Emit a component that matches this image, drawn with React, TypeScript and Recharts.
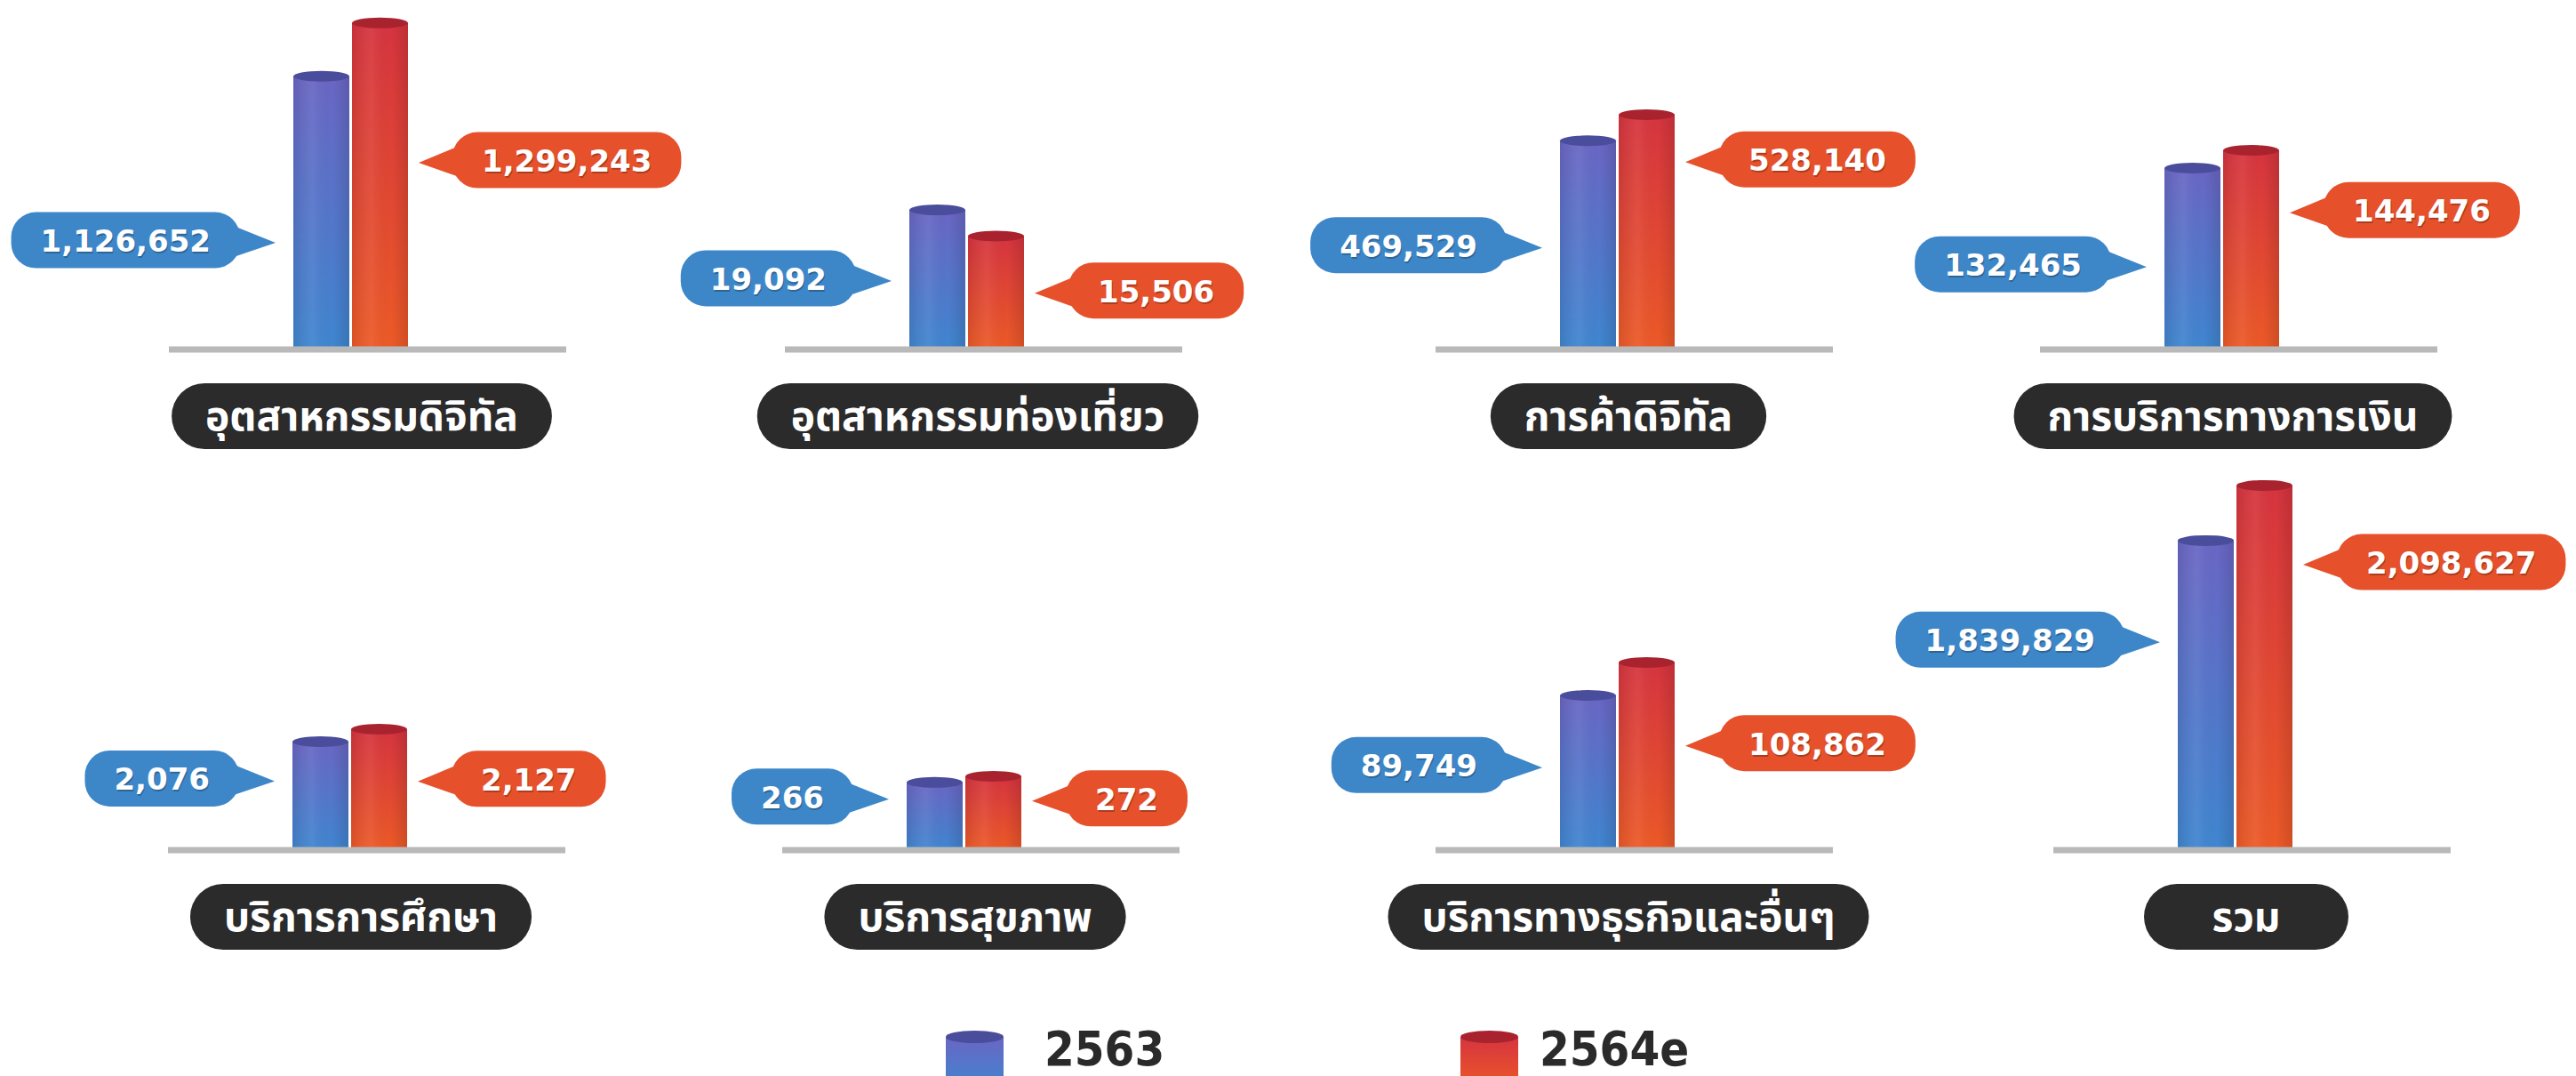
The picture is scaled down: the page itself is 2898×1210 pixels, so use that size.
import React from "react";
import { Bar, BarChart, LabelList, Legend, XAxis, YAxis } from "recharts";

const categories = [
  "อุตสาหกรรมดิจิทัล",
  "อุตสาหกรรมท่องเที่ยว",
  "การค้าดิจิทัล",
  "การบริการทางการเงิน",
  "บริการการศึกษา",
  "บริการสุขภาพ",
  "บริการทางธุรกิจและอื่นๆ",
  "รวม",
];
const values2563 = [1126652, 19092, 469529, 132465, 2076, 266, 89749, 1839829];
const values2564e = [1299243, 15506, 528140, 144476, 2127, 272, 108862, 2098627];
const seriesNames = ["2563", "2564e"];

// each panel has its own (illustrative) value scale
const axisMin = [240000, 0, 0, 10000, 1630, 200, 0, 387000];
const axisMax = [1345000, 46600, 766200, 240000, 3165, 564, 216700, 2140000];

// ---- layout ----
const baselineLeft = [190, 883, 1615, 2295, 189, 880, 1615, 2310];
const calloutLevelA = [0.4, 0.51, 0.5, 0.47, 0.66, 0.79, 0.55, 0.68];
const calloutLevelB = [0.58, 0.52, 0.81, 0.7, 0.59, 0.7, 0.57, 0.79];

const PLOT_W = 447;
const M_LEFT = 200;
const M_RIGHT = 150;
const M_TOP = 10;
const AXIS_H = 130;
const ROWS = [
  { top: 0, plotH: 383 },
  { top: 526, plotH: 420 },
];

const C = {
  blueTop: "#6a66c4",
  blueBottom: "#3f86d0",
  blueCap: "#4a4c9c",
  redTop: "#d6343f",
  redBottom: "#ec5a27",
  redCap: "#a9232f",
  blueTag: "#3d87c9",
  redTag: "#e6512b",
  pill: "#2b2b2b",
  axis: "#b9b9b9",
  legendText: "#2a2a2a",
};

const NUM_FONT_FAMILY = "'DejaVu Sans', sans-serif";
const NUM_FONT = `bold 34px ${NUM_FONT_FAMILY}`;
const THAI_SIZE = 46;
const THAI_FONT_FAMILY = "'Noto Sans Thai', 'Noto Sans Thai UI', Loma, Garuda, 'TlwgTypo', sans-serif";
const THAI_FONT = `bold ${THAI_SIZE}px ${THAI_FONT_FAMILY}`;

const ctx = typeof document !== "undefined" ? document.createElement("canvas").getContext("2d") : null;
function textWidth(text: string, font: string) {
  if (!ctx) return text.length * 22;
  ctx.font = font;
  return ctx.measureText(text).width;
}

function Cylinder(props: any) {
  const { x, y, width, height, kind, idx } = props;
  if (x == null || y == null || !width || height == null) return null;
  const cx = x + width / 2;
  const rx = width / 2;
  const bottom = y + height;
  return (
    <g>
      <ellipse cx={cx} cy={bottom} rx={rx} ry={5} fill={kind === "a" ? C.blueBottom : C.redBottom} />
      <rect x={x} y={y} width={width} height={height} fill={`url(#body-${kind}-${idx})`} />
      <rect x={x} y={y} width={width} height={height} fill={`url(#shade-${idx})`} />
      <ellipse cx={cx} cy={y} rx={rx} ry={6} fill={kind === "a" ? C.blueCap : C.redCap} />
    </g>
  );
}

function makeCallout(kind: "a" | "b", idx: number) {
  return (props: any) => {
    const { x, y, width, height, value } = props;
    if (x == null || y == null) return null;
    const text = Number(value).toLocaleString("en-US");
    const bodyW = textWidth(text, NUM_FONT) + 66;
    const bodyH = 63;
    const level = kind === "a" ? calloutLevelA[idx] : calloutLevelB[idx];
    const cy = y + height - level * height;
    const fill = kind === "a" ? C.blueTag : C.redTag;
    let tipX: number, bodyX: number, pts: string;
    if (kind === "a") {
      tipX = x - 20;
      const right = tipX - 40;
      bodyX = right - bodyW;
      pts = `${right - 22},${cy - 22} ${tipX},${cy + 3} ${right - 22},${cy + 24}`;
    } else {
      tipX = x + width + 12;
      const left = tipX + 38;
      bodyX = left;
      pts = `${left + 22},${cy - 22} ${tipX},${cy + 3} ${left + 22},${cy + 24}`;
    }
    const tx = bodyX + bodyW / 2;
    return (
      <g>
        <rect x={bodyX} y={cy - bodyH / 2} width={bodyW} height={bodyH} rx={28} fill={fill} />
        <polygon points={pts} fill={fill} />
        <text
          x={tx + 1}
          y={cy + 3}
          textAnchor="middle"
          dominantBaseline="central"
          fontFamily={NUM_FONT_FAMILY}
          fontWeight="bold"
          fontSize={34}
          fill="rgba(0,0,0,0.25)"
        >
          {text}
        </text>
        <text
          x={tx}
          y={cy + 1}
          textAnchor="middle"
          dominantBaseline="central"
          fontFamily={NUM_FONT_FAMILY}
          fontWeight="bold"
          fontSize={34}
          fill="#ffffff"
        >
          {text}
        </text>
      </g>
    );
  };
}

function PillTick(props: any) {
  const { x, y, payload } = props;
  const label = String(payload.value);
  const w = Math.max(textWidth(label, THAI_FONT) + 76, 230);
  const cx = x + 12.5;
  const top = y + 38;
  return (
    <g>
      <rect x={cx - w / 2} y={top} width={w} height={74} rx={37} fill={C.pill} />
      <text
        x={cx}
        y={top + 39}
        textAnchor="middle"
        dominantBaseline="central"
        fontFamily={THAI_FONT_FAMILY}
        fontWeight="bold"
        fontSize={THAI_SIZE}
        fill="#ffffff"
      >
        {label}
      </text>
    </g>
  );
}

function LegendIcon({ kind }: { kind: "a" | "b" }) {
  return (
    <g>
      <rect x={0} y={8} width={65} height={60} fill={`url(#body-${kind}-5)`} />
      <ellipse cx={32.5} cy={8} rx={32.5} ry={7} fill={kind === "a" ? C.blueCap : C.redCap} />
    </g>
  );
}

function renderLegend(props: any) {
  const items = props.payload || [];
  const iconX = [0, 579];
  const textX = [111, 668];
  return (
    <svg width={900} height={60} style={{ overflow: "visible", display: "block" }}>
      {items.map((entry: any, i: number) => (
        <g key={entry.value}>
          <g transform={`translate(${iconX[i]},0)`}>
            <LegendIcon kind={i === 0 ? "a" : "b"} />
          </g>
          <text
            x={textX[i]}
            y={40}
            fontFamily="'DejaVu Sans Condensed', 'DejaVu Sans', sans-serif"
            fontWeight="bold"
            fontSize={54}
            fill={C.legendText}
          >
            {entry.value}
          </text>
        </g>
      ))}
    </svg>
  );
}

function Panel({ idx }: { idx: number }) {
  const row = ROWS[idx < 4 ? 0 : 1];
  const data = [{ name: categories[idx], a: values2563[idx], b: values2564e[idx] }];
  const width = M_LEFT + PLOT_W + M_RIGHT;
  const height = M_TOP + row.plotH + AXIS_H;
  const left = baselineLeft[idx] - M_LEFT;
  return (
    <div style={{ position: "absolute", left, top: row.top }}>
      <BarChart
        width={width}
        height={height}
        data={data}
        margin={{ top: M_TOP, right: M_RIGHT, bottom: 0, left: M_LEFT }}
        barGap={3}
      >
        <defs>
          <linearGradient id={`body-a-${idx}`} x1="0" y1="0" x2="0" y2="1">
            <stop offset="0%" stopColor={C.blueTop} />
            <stop offset="100%" stopColor={C.blueBottom} />
          </linearGradient>
          <linearGradient id={`body-b-${idx}`} x1="0" y1="0" x2="0" y2="1">
            <stop offset="0%" stopColor={C.redTop} />
            <stop offset="100%" stopColor={C.redBottom} />
          </linearGradient>
          <linearGradient id={`shade-${idx}`} x1="0" y1="0" x2="1" y2="0">
            <stop offset="0%" stopColor="#000" stopOpacity={0.08} />
            <stop offset="35%" stopColor="#fff" stopOpacity={0.06} />
            <stop offset="70%" stopColor="#000" stopOpacity={0} />
            <stop offset="100%" stopColor="#000" stopOpacity={0.12} />
          </linearGradient>
        </defs>
        <XAxis
          dataKey="name"
          type="category"
          padding={{ left: 0, right: 38 }}
          axisLine={{ stroke: C.axis, strokeWidth: 7 }}
          tickLine={false}
          tickSize={0}
          tickMargin={0}
          interval={0}
          height={AXIS_H}
          tick={(p: any) => <PillTick {...p} />}
        />
        <YAxis hide domain={[axisMin[idx], axisMax[idx]]} allowDataOverflow />
        <Bar
          dataKey="a"
          name={seriesNames[0]}
          fill={C.blueBottom}
          barSize={63}
          isAnimationActive={false}
          shape={(p: any) => <Cylinder {...p} kind="a" idx={idx} />}
        >
          <LabelList dataKey="a" content={makeCallout("a", idx)} />
        </Bar>
        <Bar
          dataKey="b"
          name={seriesNames[1]}
          fill={C.redBottom}
          barSize={63}
          isAnimationActive={false}
          shape={(p: any) => <Cylinder {...p} kind="b" idx={idx} />}
        >
          <LabelList dataKey="b" content={makeCallout("b", idx)} />
        </Bar>
        {idx === 5 && (
          <Legend
            content={renderLegend}
            wrapperStyle={{ left: 384, top: 632, bottom: "auto", width: 900, height: 0, overflow: "visible" }}
          />
        )}
      </BarChart>
    </div>
  );
}

export default function App() {
  return (
    <div
      style={{
        position: "absolute",
        left: 0,
        top: 0,
        width: 2898,
        height: 1210,
        background: "#ffffff",
        overflow: "hidden",
      }}
    >
      {categories.map((_, i) => (
        <Panel key={i} idx={i} />
      ))}
    </div>
  );
}
